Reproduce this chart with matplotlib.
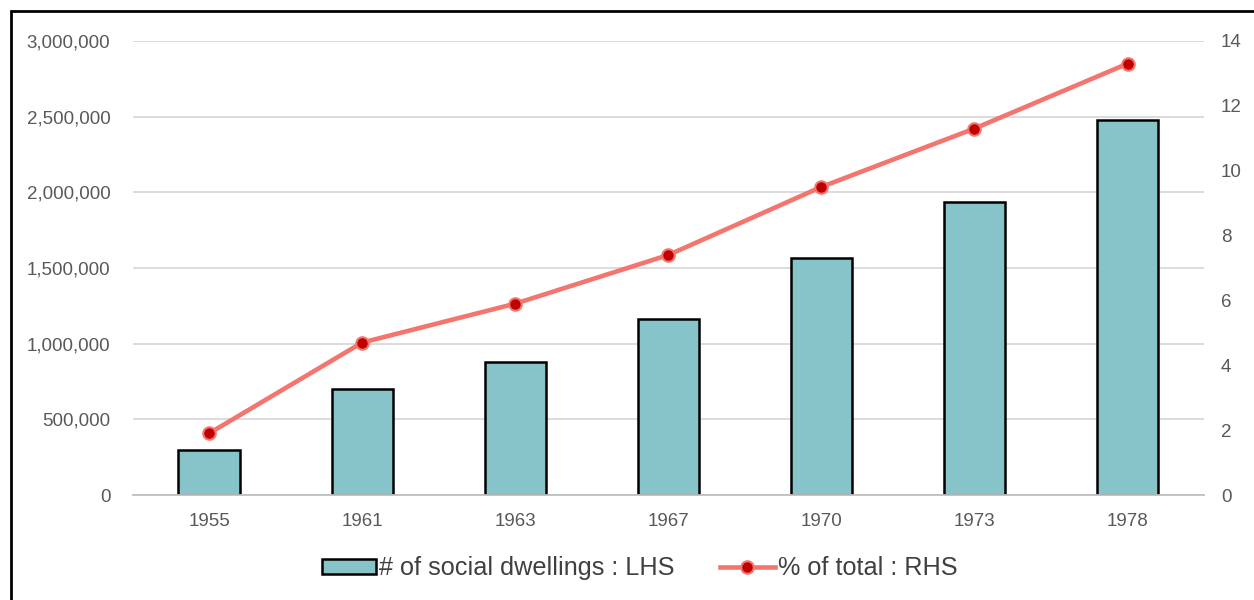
import numpy as np
import matplotlib.pyplot as plt
from matplotlib.patches import Rectangle
from matplotlib.lines import Line2D
from matplotlib.ticker import FuncFormatter

plt.rcParams['font.family'] = ['Liberation Sans', 'DejaVu Sans']

years = ['1955', '1961', '1963', '1967', '1970', '1973', '1978']
dwellings = [300000, 700000, 880000, 1165000, 1565000, 1935000, 2480000]
pct_total = [1.9, 4.7, 5.9, 7.4, 9.5, 11.3, 13.3]

bar_color = '#87C4C9'
line_color = '#F4756E'
marker_color = '#C00000'
grid_color = '#D9D9D9'
text_color = '#595959'

fig = plt.figure(figsize=(12.54, 6), dpi=100)
ax = fig.add_axes([0.1057, 0.175, 0.8545, 0.7567])
x = np.arange(len(years))

ax.bar(x, dwellings, width=0.4, color=bar_color, edgecolor='black', linewidth=1.8, zorder=2)
ax.set_xlim(-0.5, len(years) - 0.5)
ax.set_ylim(0, 3000000)
ax.set_yticks(np.arange(0, 3000001, 500000))
ax.yaxis.set_major_formatter(FuncFormatter(lambda v, p: f'{int(v):,}'))
ax.set_xticks(x)
ax.set_xticklabels(years)
ax.grid(axis='y', color=grid_color, linewidth=1.3, zorder=0)
ax.set_axisbelow(True)
for s in ['top', 'right', 'left']:
    ax.spines[s].set_visible(False)
ax.spines['bottom'].set_color('#BFBFBF')
ax.spines['bottom'].set_linewidth(1.3)
ax.tick_params(length=0, labelsize=13.5, colors=text_color)
ax.tick_params(axis='y', pad=16)
ax.tick_params(axis='x', pad=13)

ax2 = ax.twinx()
ax2.plot(x, pct_total, color=line_color, linewidth=3.3, marker='o', markersize=9,
         markerfacecolor=marker_color, markeredgecolor=line_color, markeredgewidth=1.5, zorder=3)
ax2.set_ylim(0, 14)
ax2.set_yticks(np.arange(0, 15, 2))
for s in ['top', 'right', 'left', 'bottom']:
    ax2.spines[s].set_visible(False)
ax2.tick_params(length=0, labelsize=13.5, colors=text_color, pad=12)

handles = [
    Rectangle((0, 0), 1, 1, facecolor=bar_color, edgecolor='black', linewidth=1.8),
    Line2D([0], [0], color=line_color, linewidth=3.3, marker='o', markersize=9,
           markerfacecolor=marker_color, markeredgecolor=line_color, markeredgewidth=1.5),
]
fig.legend(handles, ['# of social dwellings : LHS', '% of total : RHS'],
           loc='center', bbox_to_anchor=(0.51, 0.053), ncol=2, frameon=False,
           fontsize=18.2, labelcolor='#404040', handlelength=2.15, handleheight=0.55,
           handletextpad=0.12, columnspacing=1.8)

# outer frame (top and left edges visible)
fig.patches.append(Rectangle((11 / 1254, -0.1), 1.2, 1.1 - 11 / 600, transform=fig.transFigure,
                             fill=False, edgecolor='black', linewidth=2))

fig.savefig('out.png', dpi=100)
